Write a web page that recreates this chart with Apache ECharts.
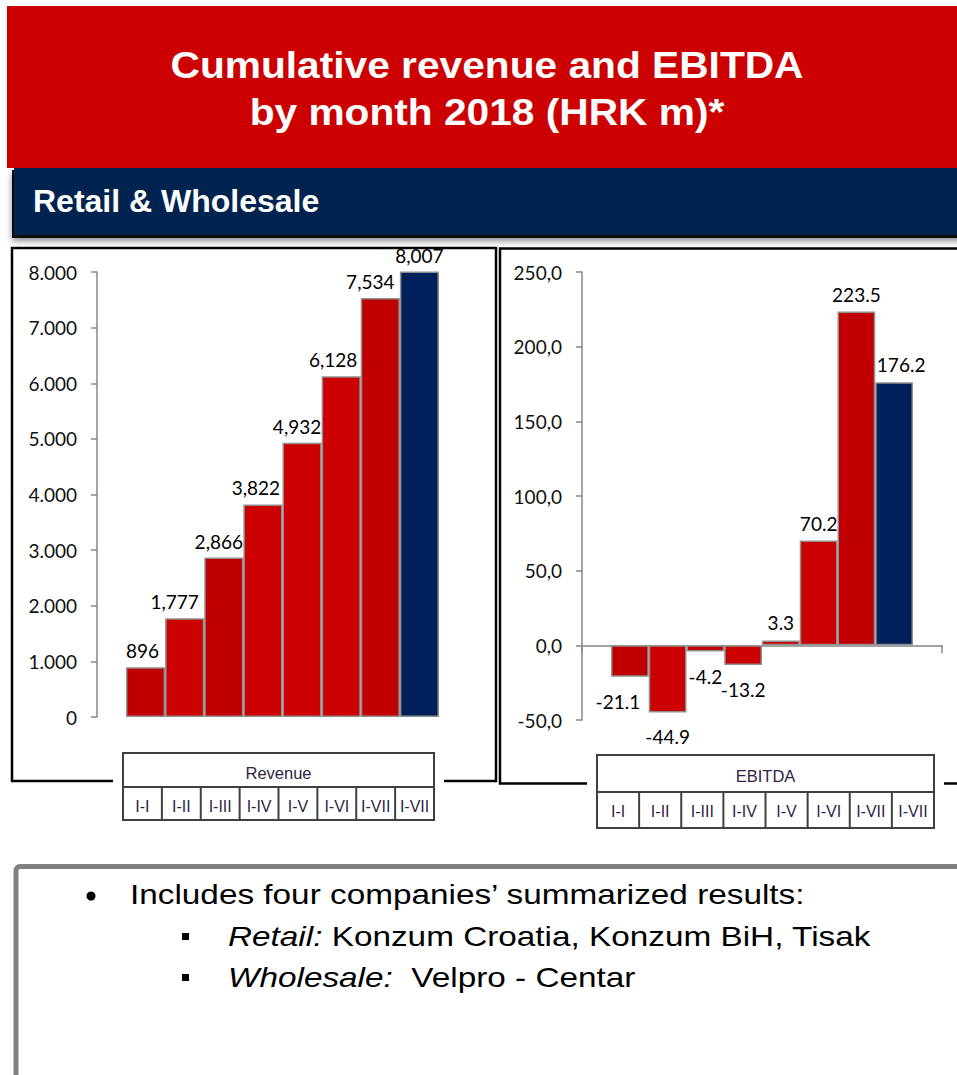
<!DOCTYPE html>
<html><head><meta charset="utf-8">
<script src="https://cdn.jsdelivr.net/npm/echarts@6/dist/echarts.min.js"></script>
<style>html,body{margin:0;padding:0;background:#fff;}#c{width:957px;height:1075px;}</style>
</head><body><div id="c"></div>
<script>
// ---- data ----
const titleLines = ['Cumulative revenue and EBITDA', 'by month 2018 (HRK m)*'];
const sectionTitle = 'Retail & Wholesale';
const categories = ['I-I', 'I-II', 'I-III', 'I-IV', 'I-V', 'I-VI', 'I-VII', 'I-VII'];
const revenueName = 'Revenue';
const revenue = [896, 1777, 2866, 3822, 4932, 6128, 7534, 8007];
const ebitdaName = 'EBITDA';
const ebitda = [-21.1, -44.9, -4.2, -13.2, 3.3, 70.2, 223.5, 176.2];
const revenueAxis = { min: 0, max: 8000, interval: 1000 };
const ebitdaAxis = { min: -50, max: 250, interval: 50 };
const noteMain = 'Includes four companies\u2019 summarized results:';
const noteSub = [['Retail:', ' Konzum Croatia, Konzum BiH, Tisak'], ['Wholesale:', '  Velpro - Centar']];

// ---- styles ----
const barColors = ['#C00000', '#CC0000', '#C00000', '#CC0000', '#CC0000', '#CC0000', '#C00000', '#00205B'];
const revenueLabelShift = [-3, -10, -5, -7, -5, -8, -10, 0];
const ebitdaLabelShift = [-12, 0, 0, 0, 0, 0, 0, 7];
const axisGray = '#878787';
const numFont = 'Lato';
const sansFont = '"Liberation Sans", Arial, sans-serif';
const tableText = '#2e1f45';
const noteSize = 28, noteScale = 1.19;

const chart = echarts.init(document.getElementById('c'), null, { renderer: 'svg' });

function thousands(v, sep) { return String(v).replace(/\B(?=(\d{3})+(?!\d))/g, sep); }

const hiddenCat = (gi, data) => ({ gridIndex: gi, type: 'category', data: data,
  axisLine: { show: false }, axisTick: { show: false }, axisLabel: { show: false }, splitLine: { show: false } });

const valAxis = (gi, rng, fmt) => ({ gridIndex: gi, type: 'value', min: rng.min, max: rng.max, interval: rng.interval,
  offset: 29,
  axisLine: { show: true, lineStyle: { color: axisGray, width: 1.5 } },
  axisTick: { show: true, length: 6, lineStyle: { color: axisGray, width: 1.5 } },
  axisLabel: { margin: 20, fontFamily: numFont, fontSize: 19, color: '#111', formatter: fmt },
  splitLine: { show: false } });

// tables
function table(x0, x1, y0, ym, y1, name, nameY, catY) {
  const els = [];
  els.push({ type: 'rect', shape: { x: x0 - 10, y: y0 + 8, width: (x1 - x0) + 20, height: 30 }, style: { fill: '#fff' } });
  els.push({ type: 'rect', shape: { x: x0, y: y0, width: x1 - x0, height: y1 - y0 }, style: { fill: '#fff', stroke: '#404040', lineWidth: 2 } });
  els.push({ type: 'line', shape: { x1: x0, y1: ym, x2: x1, y2: ym }, style: { stroke: '#404040', lineWidth: 2 } });
  const w = (x1 - x0) / categories.length;
  for (let i = 1; i < categories.length; i++) {
    els.push({ type: 'line', shape: { x1: x0 + i * w, y1: ym, x2: x0 + i * w, y2: y1 }, style: { stroke: '#404040', lineWidth: 2 } });
  }
  els.push({ type: 'text', x: (x0 + x1) / 2, y: nameY, style: { text: name, fontSize: 16.5, fontFamily: sansFont, fill: tableText, align: 'center', verticalAlign: 'middle' } });
  categories.forEach((c, i) => {
    els.push({ type: 'text', x: x0 + (i + 0.5) * w, y: catY, style: { text: c, fontSize: 16, fontFamily: sansFont, fill: tableText, align: 'center', verticalAlign: 'middle' } });
  });
  return els;
}

const graphics = [
  { type: 'rect', shape: { x: 7, y: 6, width: 960, height: 162 }, style: { fill: '#CC0000' } },
  { type: 'text', x: 487, y: 65, scaleX: 1.1, style: { text: titleLines[0], fontSize: 37, fontWeight: 'bold', fontFamily: sansFont, fill: '#fff', align: 'center', verticalAlign: 'middle' } },
  { type: 'text', x: 487, y: 112, scaleX: 1.1, style: { text: titleLines[1], fontSize: 37, fontWeight: 'bold', fontFamily: sansFont, fill: '#fff', align: 'center', verticalAlign: 'middle' } },
  { type: 'rect', shape: { x: 12, y: 170, width: 960, height: 68 }, style: { fill: '#111', shadowBlur: 6, shadowColor: 'rgba(0,0,0,0.45)', shadowOffsetY: 3 } },
  { type: 'rect', shape: { x: 14, y: 168, width: 960, height: 67 }, style: { fill: '#012350' } },
  { type: 'text', x: 33, y: 201, style: { text: sectionTitle, fontSize: 32, fontWeight: 'bold', fontFamily: sansFont, fill: '#fff', align: 'left', verticalAlign: 'middle' } },
  { type: 'rect', shape: { x: 12, y: 248, width: 484, height: 533 }, style: { fill: 'none', stroke: '#000', lineWidth: 2.5 } },
  { type: 'rect', shape: { x: 500, y: 248.5, width: 480, height: 535 }, style: { fill: 'none', stroke: '#000', lineWidth: 2.5 } },
  ...table(123, 434, 753, 787, 820, revenueName, 773, 806),
  ...table(597, 934, 755, 792, 828, ebitdaName, 776, 811),
  { type: 'rect', shape: { x: 16, y: 866.5, width: 1000, height: 300, r: 4 }, style: { fill: 'none', stroke: '#808080', lineWidth: 5 } },
  { type: 'circle', shape: { cx: 91, cy: 896, r: 4.5 }, style: { fill: '#000' } },
  { type: 'text', x: 130, y: 894, scaleX: noteScale, style: { text: noteMain, fontSize: noteSize, fontFamily: sansFont, fill: '#000', align: 'left', verticalAlign: 'middle' } }
];
noteSub.forEach((parts, i) => {
  const cy = 936 + i * 41;
  graphics.push({ type: 'rect', shape: { x: 182, y: cy - 3, width: 7, height: 7 }, style: { fill: '#000' } });
  graphics.push({ type: 'text', x: 228, y: cy, scaleX: noteScale, style: {
    text: '{i|' + parts[0] + '}{n|' + parts[1] + '}', fontSize: noteSize, fontFamily: sansFont, fill: '#000', align: 'left', verticalAlign: 'middle',
    rich: { i: { fontStyle: 'italic', fontSize: noteSize, fontFamily: sansFont, fill: '#000' }, n: { fontSize: noteSize, fontFamily: sansFont, fill: '#000' } } } });
});

const option = {
  animation: false,
  backgroundColor: '#fff',
  grid: [
    { left: 126, top: 272, width: 313, height: 445 },
    { left: 611, top: 272, width: 302, height: 448 },
    { left: 582, top: 272, width: 360, height: 448 }
  ],
  xAxis: [
    hiddenCat(0, categories),
    hiddenCat(1, categories),
    { gridIndex: 2, type: 'category', data: [''], axisLine: { show: true, onZero: true, lineStyle: { color: axisGray, width: 1.5 } },
      axisTick: { show: true, length: 8, lineStyle: { color: axisGray, width: 1.5 } }, axisLabel: { show: false }, splitLine: { show: false } }
  ],
  yAxis: [
    valAxis(0, revenueAxis, v => v === 0 ? '0' : thousands(v, '.')),
    valAxis(1, ebitdaAxis, v => v.toFixed(1).replace('.', ',')),
    { gridIndex: 2, type: 'value', min: ebitdaAxis.min, max: ebitdaAxis.max, interval: ebitdaAxis.interval, show: false }
  ],
  series: [
    { type: 'bar', name: revenueName, xAxisIndex: 0, yAxisIndex: 0, barCategoryGap: '0%',
      itemStyle: { borderColor: '#8f8f8f', borderWidth: 1.5 },
      label: { show: true, position: 'top', distance: 7, fontFamily: numFont, fontSize: 19, color: '#000',
        formatter: p => thousands(p.value, ',') },
      data: revenue.map((v, i) => ({ value: v, itemStyle: { color: barColors[i] },
        label: { offset: [revenueLabelShift[i], 0] } })) },
    { type: 'bar', name: ebitdaName, xAxisIndex: 1, yAxisIndex: 1, barCategoryGap: '0%',
      itemStyle: { borderColor: '#8f8f8f', borderWidth: 1.5 },
      label: { show: true, fontFamily: numFont, fontSize: 19, color: '#000', formatter: p => p.value.toFixed(1) },
      data: ebitda.map((v, i) => ({ value: v, itemStyle: { color: barColors[i] },
        label: v < 0 ? { position: 'bottom', distance: 15, offset: [ebitdaLabelShift[i], 0] }
                     : { position: 'top', distance: 8, offset: [ebitdaLabelShift[i], 0] } })) }
  ],
  graphic: { elements: graphics }
};
chart.setOption(option);
</script></body></html>
